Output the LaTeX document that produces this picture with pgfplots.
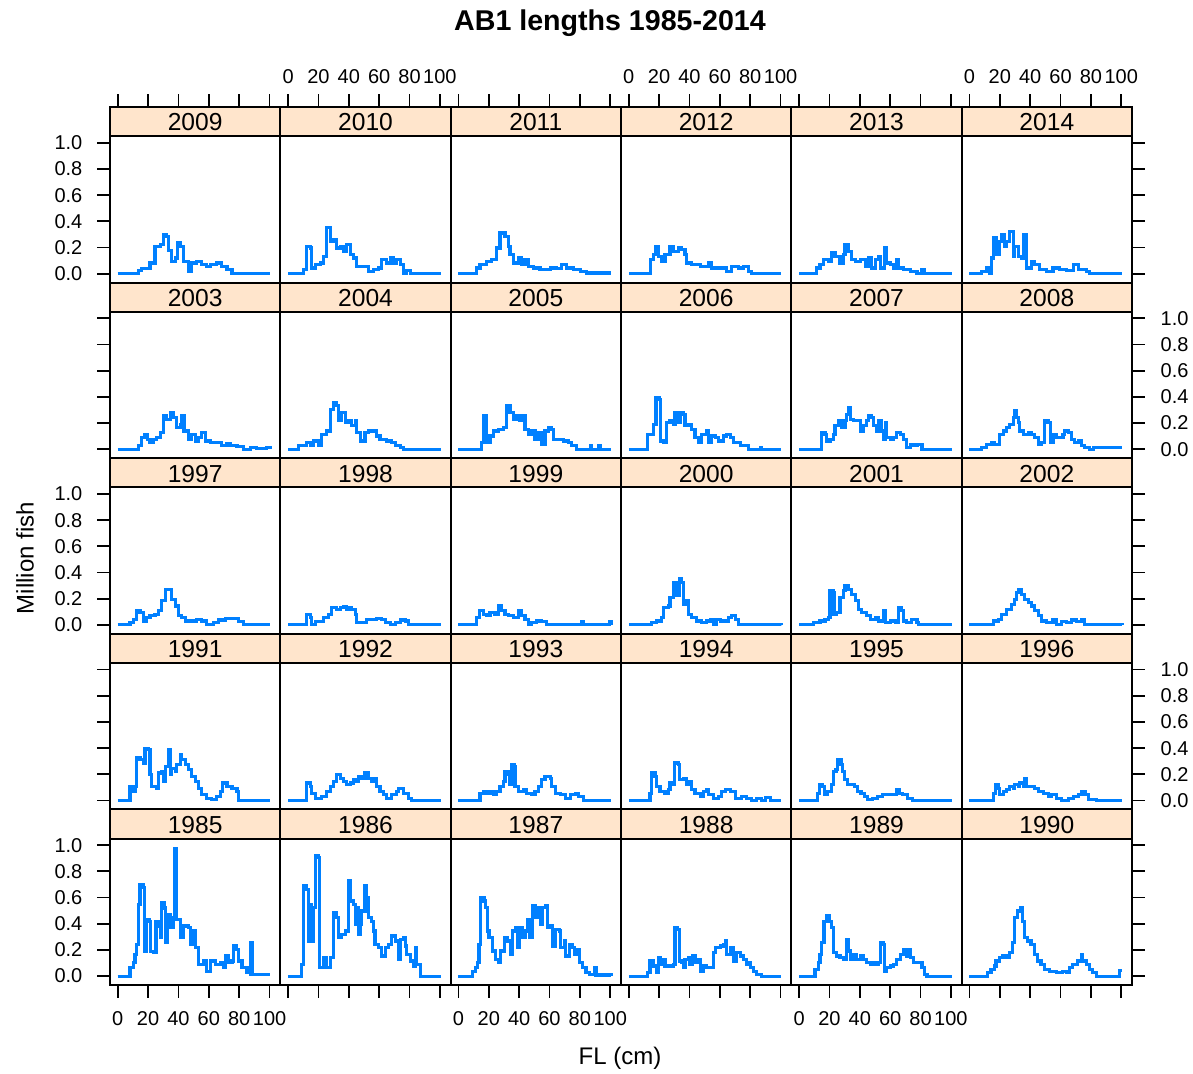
\documentclass[border=0pt]{standalone}
\usepackage{fontspec}
\setmainfont{Liberation Sans}
\usepackage{pgfplots}
\pgfplotsset{compat=1.18}

\definecolor{stripbg}{HTML}{FFE5CC}
\definecolor{fishblue}{HTML}{0080FF}

\newcommand\tickfont{\fontsize{10}{12}\selectfont}
\newcommand\stripfont{\fontsize{12.3}{14}\selectfont}

\pgfplotsset{
  panel/.style={
    scale only axis, width=85.17pt, height=87.8pt,
    anchor=north west,
    xmin=-5.1, xmax=107.1, ymin=-0.068, ymax=1.273,
    axis on top,
    axis line style={line width=1pt},
    every tick/.style={black, line width=0.9pt},
    tick align=outside, major tick length=6.3pt,
    xtick={0,20,40,60,80,100}, ytick={0,0.2,0.4,0.6,0.8,1.0},
    minor tick num=0, scaled y ticks=false,
    tick label style={font=\tickfont},
    /pgf/number format/assume math mode=true,
    yticklabel style={/pgf/number format/fixed,
      /pgf/number format/fixed zerofill, /pgf/number format/precision=1},
  },
  rtop/.style={xtick pos=right, xticklabel pos=right, xticklabel style={yshift=2pt}},
  rtopn/.style={xtick pos=right, xticklabels={}},
  rmid/.style={xtick=\empty},
  rbot/.style={xtick pos=left, xticklabel pos=left, xticklabel style={yshift=-3.5pt}},
  rbotn/.style={xtick pos=left, xticklabels={}},
  cl/.style={ytick pos=left, yticklabel pos=left, yticklabel style={xshift=-4pt}},
  cln/.style={ytick pos=left, yticklabels={}},
  cr/.style={ytick pos=right, yticklabel pos=right, yticklabel style={xshift=4.5pt}},
  crn/.style={ytick pos=right, yticklabels={}},
  cmid/.style={ytick=\empty},
}

% #1 position, #2 unused, #3 year, #4 tick options, #5 data
\newcommand\panel[5]{%
  \begin{axis}[panel, at={#1}, #4]
    \fill[stripbg] (axis cs:-5.1,1.05) rectangle (axis cs:107.1,1.273);
    \draw[line width=1pt] (axis cs:-5.1,1.05) -- (axis cs:107.1,1.05);
    \node[font=\stripfont, inner sep=0pt] at (axis cs:51,1.155) {#3};
    \addplot[const plot, fishblue, line width=1.6pt] coordinates {#5};
  \end{axis}}

\begin{document}
\begin{tikzpicture}
\useasboundingbox (0,0) rectangle (596.5pt,-537pt);

% ---- row 1 ----
\panel{(55pt,-53.5pt)}{}{2009}{rtopn, cl}{(0,0)(13.6,0.023)(15.8,0.038)(21.3,0.082)(24.6,0.21)(27.9,0.22)(30.1,0.30)(32.3,0.285)(33.4,0.18)(35.6,0.094)(37.8,0.12)(39.5,0.235)(41.5,0.21)(43.3,0.094)(46.6,0.018)(48.8,0.082)(52.1,0.094)(55.4,0.07)(58.7,0.056)(60.9,0.07)(65.3,0.082)(68.6,0.056)(71.9,0.03)(75.2,0)(100.5,0)}
\panel{(140.17pt,-53.5pt)}{}{2010}{rtop, cmid}{(0,0)(10.1,0.03)(12.3,0.21)(14.5,0.196)(15.6,0.043)(17.8,0.069)(21.1,0.082)(23.3,0.133)(25.5,0.35)(27.7,0.247)(29.9,0.26)(32.1,0.196)(34.3,0.21)(36.5,0.17)(38.7,0.222)(40.9,0.145)(43.1,0.12)(45.3,0.056)(48.5,0.056)(52.9,0.018)(56.2,0.03)(59.5,0.043)(61.7,0.107)(65.0,0.082)(67.2,0.12)(69.4,0.082)(71.6,0.107)(73.8,0.069)(76.0,0.005)(78.2,0.023)(80.4,0)(100.5,0)}
\panel{(225.33pt,-53.5pt)}{}{2011}{rtopn, cmid}{(0,0)(12.05,0.043)(14.25,0.069)(18.6,0.094)(21.9,0.107)(25.2,0.196)(27.4,0.31)(30.7,0.285)(32.9,0.21)(34.0,0.145)(36.2,0.082)(39.5,0.12)(41.7,0.069)(43.9,0.107)(46.1,0.056)(49.4,0.043)(53.8,0.03)(60.4,0.043)(64.8,0.038)(68.1,0.069)(71.4,0.043)(75.8,0.03)(80.2,0.018)(84.6,0.005)(100.5,0.005)}
\panel{(310.5pt,-53.5pt)}{}{2012}{rtop, cmid}{(0,0)(14.5,0.107)(16.2,0.145)(18.0,0.21)(19.5,0.133)(21.7,0.094)(23.9,0.145)(27.2,0.21)(29.4,0.17)(32.7,0.196)(34.9,0.184)(37.1,0.145)(38.2,0.082)(41.5,0.069)(47.0,0.056)(52.5,0.087)(54.7,0.043)(60.2,0.043)(64.6,0.018)(67.9,0.056)(72.3,0.043)(75.6,0.056)(78.9,0.018)(81.1,0)(100.5,0)}
\panel{(395.67pt,-53.5pt)}{}{2013}{rtopn, cmid}{(0,0)(11.6,0.043)(13.8,0.069)(16.0,0.107)(19.3,0.094)(21.5,0.158)(23.7,0.133)(27.0,0.082)(29.2,0.145)(30.3,0.222)(32.5,0.17)(34.7,0.107)(36.9,0.094)(40.2,0.107)(43.5,0.056)(45.7,0.12)(47.9,0.043)(50.1,0.107)(52.3,0.133)(53.4,0.043)(56.0,0.196)(57.8,0.082)(60.0,0.069)(62.2,0.043)(64.4,0.107)(65.5,0.043)(68.8,0.03)(73.2,0.018)(77.6,0)(80.9,0.03)(82.4,0)(100.5,0)}
\panel{(480.83pt,-53.5pt)}{}{2014}{rtop, crn}{(0,0)(7.9,0.018)(11.2,0.043)(13.4,0.005)(14.5,0.12)(15.6,0.273)(17.8,0.145)(20.0,0.247)(21.1,0.30)(23.3,0.21)(24.4,0.247)(26.6,0.324)(28.8,0.133)(29.9,0.21)(32.1,0.133)(34.3,0.12)(35.8,0.30)(37.6,0.043)(40.9,0.094)(43.1,0.069)(46.4,0.03)(50.8,0.018)(55.1,0.043)(59.5,0.03)(63.9,0.023)(68.3,0.069)(71.6,0.03)(77.1,0.018)(79.3,0)(100.5,0)}

% ---- row 2 ----
\panel{(55pt,-141.3pt)}{}{2003}{rmid, cln}{(0,0)(13.6,0.026)(15.8,0.089)(18.0,0.115)(19.5,0.077)(21.3,0.051)(23.5,0.077)(25.7,0.089)(27.9,0.128)(30.1,0.255)(32.3,0.23)(34.5,0.28)(36.7,0.242)(38.9,0.166)(41.1,0.191)(42.2,0.255)(43.7,0.14)(46.6,0.077)(48.8,0.115)(51.0,0.064)(53.2,0.089)(55.4,0.128)(57.6,0.064)(60.9,0.051)(68.6,0.026)(71.9,0.046)(74.1,0.026)(78.5,0.02)(82.9,0)(87.2,0.013)(91.6,0.005)(98.2,0.013)(100.5,0)}
\panel{(140.17pt,-141.3pt)}{}{2004}{rmid, cmid}{(0,0)(6.8,0.026)(12.3,0.051)(14.5,0.026)(16.7,0.064)(20.0,0.026)(22.2,0.115)(25.5,0.14)(27.7,0.306)(29.9,0.357)(32.1,0.332)(33.2,0.217)(35.4,0.28)(37.6,0.204)(39.8,0.217)(42.0,0.179)(44.2,0.217)(45.3,0.128)(47.5,0.064)(50.7,0.128)(52.9,0.14)(58.4,0.102)(60.6,0.077)(65.0,0.064)(68.3,0.051)(70.5,0.026)(73.8,0.013)(76.0,0)(100.5,0)}
\panel{(225.33pt,-141.3pt)}{}{2005}{rmid, cmid}{(0,0)(15.3,0.051)(16.9,0.255)(18.6,0.051)(20.8,0.102)(23.0,0.14)(26.3,0.153)(29.6,0.166)(31.8,0.33)(34.0,0.28)(36.2,0.23)(38.4,0.255)(40.6,0.217)(42.8,0.255)(43.9,0.153)(46.1,0.115)(48.3,0.14)(50.5,0.077)(52.7,0.128)(54.9,0.038)(57.1,0.14)(59.3,0.166)(61.5,0.153)(62.6,0.077)(69.2,0.064)(72.5,0.051)(74.7,0.026)(78.0,0)(86.8,0.026)(87.9,0)(92.3,0.026)(93.4,0)(100.5,0)}
\panel{(310.5pt,-141.3pt)}{}{2006}{rmid, cmid}{(0,0)(12.3,0.115)(15.1,0.115)(16.2,0.191)(18.0,0.395)(20.2,0.383)(21.1,0.064)(22.8,0.051)(24.6,0.204)(27.2,0.217)(29.4,0.191)(30.5,0.28)(32.7,0.204)(33.8,0.28)(36.0,0.268)(37.1,0.179)(39.3,0.191)(41.5,0.153)(43.7,0.089)(45.9,0.051)(48.1,0.115)(51.4,0.14)(52.5,0.051)(54.7,0.102)(56.9,0.089)(59.1,0.064)(62.4,0.102)(64.6,0.115)(66.8,0.089)(69.0,0.051)(73.4,0.026)(78.9,0)(86.6,0.013)(87.7,0)(100.5,0)}
\panel{(395.67pt,-141.3pt)}{}{2007}{rmid, cmid}{(0,0)(14.9,0.128)(17.1,0.115)(18.2,0.064)(20.4,0.077)(22.6,0.115)(23.7,0.179)(25.9,0.217)(28.1,0.166)(30.3,0.217)(31.4,0.268)(32.5,0.32)(33.6,0.230)(35.8,0.217)(39.1,0.217)(40.2,0.140)(42.4,0.179)(44.6,0.217)(45.7,0.255)(47.9,0.242)(49.0,0.179)(51.2,0.140)(52.3,0.217)(54.5,0.140)(55.6,0.077)(56.7,0.204)(57.8,0.089)(60.0,0.077)(62.2,0.089)(64.4,0.128)(66.6,0.115)(68.8,0.077)(71.0,0.013)(73.2,0.038)(75.4,0.026)(77.6,0.038)(80.9,0)(100.5,0)}
\panel{(480.83pt,-141.3pt)}{}{2008}{rmid, cr}{(0,0)(7.9,0.013)(11.2,0.038)(14.5,0.051)(16.7,0.038)(20.0,0.115)(22.2,0.14)(24.4,0.166)(26.6,0.191)(28.8,0.242)(29.9,0.293)(31.0,0.242)(32.1,0.204)(33.2,0.14)(35.4,0.115)(38.7,0.128)(40.9,0.115)(43.1,0.089)(45.3,0.038)(47.5,0.051)(49.7,0.217)(51.8,0.204)(53.4,0.051)(55.1,0.115)(57.3,0.089)(61.7,0.115)(62.8,0.14)(65.0,0.128)(67.2,0.077)(69.4,0.051)(71.6,0.064)(73.8,0.026)(76.0,0.013)(79.3,0)(81.5,0.013)(100.5,0.013)}

% ---- row 3 ----
\panel{(55pt,-229.1pt)}{}{1997}{rmid, cl}{(0,0)(8.1,0.018)(10.3,0.043)(12.5,0.107)(14.7,0.094)(16.9,0.03)(19.1,0.056)(21.3,0.069)(24.6,0.082)(26.8,0.107)(29.0,0.184)(31.2,0.273)(34.5,0.273)(35.6,0.196)(37.8,0.145)(40.0,0.069)(42.2,0.056)(44.4,0.03)(52.1,0.043)(55.4,0.03)(58.7,0.005)(63.1,0.018)(66.4,0.038)(70.8,0.048)(77.4,0.048)(79.6,0.023)(82.9,0)(100.5,0)}
\panel{(140.17pt,-229.1pt)}{}{1998}{rmid, cmid}{(0,0)(12.3,0.082)(14.5,0.056)(15.6,0.005)(17.8,0.023)(23.3,0.056)(26.6,0.082)(28.8,0.133)(32.1,0.12)(34.3,0.133)(36.5,0.14)(38.7,0.12)(39.8,0.133)(42.0,0.12)(44.2,0.082)(45.3,0.018)(51.8,0.043)(58.4,0.051)(61.7,0.043)(63.9,0.018)(67.2,0.005)(70.5,0.018)(73.8,0.038)(77.1,0.03)(79.3,0.005)(81.5,0)(100.5,0)}
\panel{(225.33pt,-229.1pt)}{}{1999}{rmid, cmid}{(0,0)(11.9,0.056)(14.1,0.107)(16.4,0.082)(18.6,0.069)(20.8,0.094)(24.1,0.082)(26.3,0.145)(28.5,0.107)(30.7,0.082)(32.9,0.069)(36.2,0.056)(39.5,0.107)(41.7,0.069)(43.9,0.043)(46.1,0.005)(48.3,0.018)(51.6,0.03)(54.9,0.023)(58.2,0.005)(81.3,0.023)(82.4,0)(99.6,0.023)(100.5,0)}
\panel{(310.5pt,-229.1pt)}{}{2000}{rmid, cmid}{(0,0)(15.1,0.018)(18.4,0.03)(21.7,0.056)(22.8,0.133)(26.1,0.145)(27.2,0.21)(29.4,0.324)(31.6,0.222)(33.4,0.35)(34.9,0.324)(36.0,0.158)(38.2,0.184)(39.3,0.082)(41.5,0.056)(44.8,0.03)(48.1,0.018)(51.4,0.03)(53.6,0.043)(55.8,0.005)(58.0,0.043)(60.2,0.023)(62.4,0.03)(65.7,0.056)(67.9,0.069)(70.1,0.043)(72.3,0.005)(100.5,0)}
\panel{(395.67pt,-229.1pt)}{}{2001}{rmid, cmid}{(0,0)(9.4,0.018)(13.8,0.03)(17.1,0.043)(19.3,0.056)(20.4,0.26)(22.6,0.247)(23.0,0.082)(24.8,0.094)(27.0,0.21)(29.2,0.26)(30.3,0.30)(32.5,0.273)(34.7,0.235)(36.9,0.184)(39.1,0.12)(41.3,0.094)(44.6,0.069)(46.8,0.043)(50.1,0.056)(52.3,0.03)(55.6,0.107)(56.7,0.018)(60.0,0.03)(63.3,0.018)(65.5,0.133)(67.7,0.107)(68.8,0.03)(71.0,0.018)(74.3,0.043)(77.6,0.018)(78.7,0)(100.5,0)}
\panel{(480.83pt,-229.1pt)}{}{2002}{rmid, crn}{(0,0)(15.6,0.03)(18.9,0.043)(21.1,0.082)(24.4,0.12)(27.7,0.158)(29.9,0.196)(31.0,0.247)(32.7,0.273)(34.3,0.235)(36.5,0.196)(38.7,0.17)(40.9,0.145)(43.1,0.107)(45.3,0.069)(47.5,0.03)(50.8,0.018)(55.1,0.038)(57.3,0.005)(60.6,0.023)(63.9,0.018)(67.2,0.038)(70.5,0.023)(73.8,0.038)(76.0,0.005)(100.5,0)}

% ---- row 4 ----
\panel{(55pt,-316.9pt)}{}{1991}{rmid, cln}{(0,0)(8.1,0.107)(10.3,0.069)(11.4,0.107)(12.5,0.324)(14.7,0.311)(16.9,0.286)(18.0,0.40)(20.2,0.388)(21.3,0.196)(22.4,0.107)(25.7,0.094)(26.8,0.21)(29.0,0.222)(30.1,0.145)(31.2,0.26)(33.4,0.388)(34.5,0.196)(35.6,0.247)(37.8,0.222)(38.9,0.273)(41.1,0.35)(42.2,0.311)(44.4,0.273)(46.6,0.235)(48.8,0.184)(51.0,0.145)(53.2,0.094)(55.4,0.043)(58.7,0.018)(62.0,0.005)(65.3,0.03)(67.5,0.069)(69.2,0.133)(71.9,0.107)(75.2,0.094)(78.5,0.069)(79.6,0)(100.5,0)}
\panel{(140.17pt,-316.9pt)}{}{1992}{rmid, cmid}{(0,0)(12.3,0.133)(14.5,0.107)(15.6,0.056)(17.8,0.018)(22.2,0.03)(25.5,0.069)(27.7,0.107)(29.9,0.145)(32.1,0.196)(34.3,0.17)(36.5,0.145)(38.7,0.12)(40.9,0.133)(43.1,0.158)(45.3,0.145)(46.4,0.184)(48.5,0.17)(50.7,0.21)(52.9,0.17)(55.1,0.145)(57.3,0.17)(58.4,0.107)(60.6,0.069)(62.8,0.043)(65.0,0.018)(68.3,0.043)(71.6,0.069)(72.7,0.094)(76.0,0.056)(79.3,0.018)(81.5,0)(100.5,0)}
\panel{(225.33pt,-316.9pt)}{}{1993}{rmid, cmid}{(0,0)(14.25,0.056)(16.4,0.069)(18.6,0.056)(20.8,0.069)(23.0,0.043)(25.2,0.069)(27.4,0.107)(29.6,0.145)(30.7,0.222)(32.9,0.196)(34.0,0.12)(35.1,0.273)(36.7,0.26)(37.3,0.107)(39.5,0.069)(42.8,0.082)(45.0,0.056)(48.3,0.043)(50.5,0.069)(52.7,0.107)(54.9,0.158)(57.1,0.184)(60.4,0.17)(61.5,0.107)(63.7,0.056)(67.0,0.043)(70.3,0.018)(73.6,0.043)(76.9,0.056)(79.1,0.03)(82.4,0)(100.5,0)}
\panel{(310.5pt,-316.9pt)}{}{1994}{rmid, cmid}{(0,0)(14.0,0.056)(15.1,0.21)(17.3,0.184)(18.4,0.107)(20.6,0.069)(23.9,0.056)(26.1,0.082)(27.2,0.133)(29.0,0.12)(29.9,0.286)(32.7,0.273)(33.4,0.158)(36.0,0.17)(38.2,0.12)(40.4,0.145)(41.5,0.082)(43.7,0.056)(47.0,0.03)(49.2,0.069)(51.4,0.082)(52.5,0.043)(55.8,0.018)(59.1,0.03)(61.3,0.069)(63.5,0.082)(66.8,0.069)(70.1,0.018)(74.5,0.03)(77.8,0.018)(81.1,0)(84.4,0.018)(87.7,0)(89.9,0.023)(93.2,0)(100.5,0)}
\panel{(395.67pt,-316.9pt)}{}{1995}{rmid, cmid}{(0,0)(12.2,0.056)(13.4,0.12)(15.6,0.107)(16.7,0.043)(18.9,0.069)(21.1,0.12)(22.8,0.222)(24.3,0.235)(25.4,0.311)(27.6,0.273)(28.7,0.222)(29.8,0.158)(32.0,0.12)(34.2,0.12)(36.4,0.107)(38.6,0.069)(40.8,0.056)(43.0,0.03)(45.2,0.005)(48.5,0.018)(51.8,0.03)(55.1,0.043)(58.4,0.048)(61.7,0.043)(63.9,0.082)(66.1,0.056)(68.3,0.043)(71.6,0.018)(74.9,0)(100.5,0)}
\panel{(480.83pt,-316.9pt)}{}{1996}{rmid, cr}{(0,0)(15.6,0.056)(17.3,0.12)(18.9,0.094)(20.0,0.043)(22.2,0.069)(24.4,0.082)(26.6,0.107)(28.8,0.094)(29.9,0.12)(32.1,0.107)(33.2,0.133)(35.4,0.107)(36.5,0.17)(37.6,0.107)(39.8,0.107)(43.1,0.094)(45.3,0.069)(48.6,0.056)(51.9,0.03)(54.1,0.043)(57.4,0.018)(60.7,0)(65.1,0.018)(68.4,0.03)(71.7,0.043)(73.9,0.069)(76.1,0.043)(78.3,0.005)(83.8,0)(100.5,0)}

% ---- row 5 ----
\panel{(55pt,-404.7pt)}{}{1985}{rbot, cl}{(0,0)(8.1,0.064)(10.3,0.102)(11.4,0.166)(12.5,0.242)(13.6,0.548)(14.7,0.70)(16.9,0.676)(17.5,0.191)(19.1,0.434)(20.8,0.42)(21.7,0.19)(23.5,0.178)(25.2,0.42)(26.8,0.383)(27.9,0.293)(29.0,0.56)(30.5,0.52)(31.2,0.255)(32.7,0.47)(34.5,0.37)(36.7,0.446)(37.6,0.97)(38.4,0.97)(38.9,0.434)(41.1,0.293)(43.3,0.383)(46.6,0.37)(47.7,0.242)(49.4,0.344)(51.0,0.217)(53.2,0.089)(56.5,0.115)(58.7,0.038)(60.9,0.115)(64.2,0.089)(67.5,0.102)(69.7,0.064)(70.8,0.153)(73.0,0.102)(75.2,0.115)(76.3,0.23)(78.0,0.204)(79.6,0.115)(81.8,0.064)(85.1,0.026)(87.2,0.013)(87.7,0.255)(89.0,0.013)(100.5,0.013)}
\panel{(140.17pt,-404.7pt)}{}{1986}{rbotn, cmid}{(0,0)(9.0,0.089)(10.1,0.69)(12.3,0.663)(13.4,0.268)(14.5,0.548)(15.6,0.268)(16.7,0.523)(17.8,0.918)(20.0,0.906)(20.6,0.064)(23.3,0.14)(25.5,0.064)(27.7,0.14)(29.9,0.485)(32.1,0.446)(33.2,0.293)(35.4,0.319)(37.6,0.344)(39.8,0.727)(40.9,0.574)(43.1,0.548)(44.2,0.395)(45.3,0.523)(46.4,0.319)(47.5,0.395)(48.5,0.497)(50.7,0.69)(51.8,0.6)(52.9,0.446)(55.1,0.42)(56.2,0.344)(57.3,0.242)(59.5,0.217)(61.7,0.153)(63.9,0.217)(66.1,0.242)(68.3,0.306)(70.5,0.268)(72.7,0.128)(73.8,0.28)(76.0,0.293)(77.1,0.23)(78.2,0.166)(80.4,0.115)(82.6,0.077)(83.7,0.217)(84.8,0.089)(87.0,0)(100.5,0)}
\panel{(225.33pt,-404.7pt)}{}{1987}{rbot, cmid}{(0,0)(9.2,0.038)(11.4,0.064)(12.5,0.102)(13.6,0.242)(14.7,0.60)(16.9,0.574)(18.0,0.523)(19.1,0.344)(20.2,0.293)(22.4,0.191)(24.6,0.128)(26.8,0.102)(27.9,0.191)(30.1,0.293)(32.3,0.268)(34.5,0.166)(35.6,0.344)(37.8,0.37)(38.9,0.217)(40.0,0.37)(42.2,0.293)(44.4,0.344)(45.5,0.434)(46.6,0.293)(48.8,0.536)(51.0,0.446)(52.1,0.523)(54.3,0.395)(55.4,0.523)(57.6,0.536)(58.7,0.37)(60.9,0.383)(62.0,0.23)(64.2,0.357)(66.4,0.344)(67.5,0.217)(69.7,0.268)(70.8,0.153)(73.0,0.242)(75.2,0.217)(76.3,0.166)(78.5,0.204)(79.6,0.102)(81.8,0.064)(84.0,0.026)(86.2,0.013)(89.5,0.064)(90.6,0.008)(100.5,0)}
\panel{(310.5pt,-404.7pt)}{}{1988}{rbotn, cmid}{(0,0)(12.2,0.026)(14.0,0.115)(16.2,0.077)(18.4,0.026)(19.5,0.14)(20.6,0.089)(21.7,0.128)(23.9,0.077)(29.4,0.089)(30.5,0.37)(32.1,0.357)(33.4,0.115)(34.9,0.102)(36.0,0.064)(37.1,0.128)(39.3,0.14)(40.4,0.089)(42.2,0.153)(43.7,0.102)(45.9,0.128)(47.0,0.038)(49.2,0.077)(51.4,0.064)(55.8,0.179)(56.9,0.217)(60.2,0.23)(62.4,0.242)(63.5,0.268)(64.6,0.166)(66.8,0.217)(69.0,0.115)(70.8,0.179)(73.4,0.153)(75.6,0.128)(77.4,0.089)(78.9,0.102)(80.0,0.064)(82.2,0.038)(84.4,0.013)(87.7,0)(100.5,0)}
\panel{(395.67pt,-404.7pt)}{}{1989}{rbot, cmid}{(0,0)(10.5,0.051)(12.7,0.102)(13.8,0.166)(14.9,0.255)(16.4,0.42)(18.2,0.46)(20.0,0.42)(21.5,0.37)(22.6,0.179)(24.8,0.153)(27.0,0.14)(29.2,0.128)(31.0,0.28)(32.5,0.191)(33.6,0.128)(35.8,0.166)(38.0,0.128)(40.2,0.153)(42.4,0.128)(44.6,0.102)(46.8,0.089)(49.0,0.102)(51.2,0.089)(52.3,0.102)(53.8,0.255)(55.2,0.242)(56.0,0.038)(57.8,0.064)(60.0,0.077)(62.2,0.089)(64.4,0.128)(66.6,0.166)(68.8,0.204)(71.0,0.153)(72.1,0.204)(73.6,0.14)(75.4,0.102)(78.7,0.102)(80.9,0.064)(82.4,0.013)(84.2,0)(100.5,0)}
\panel{(480.83pt,-404.7pt)}{}{1990}{rbotn, crn}{(0,0)(12.0,0.026)(14.2,0.051)(16.4,0.077)(17.5,0.115)(19.7,0.14)(21.9,0.153)(24.1,0.14)(26.3,0.179)(28.5,0.255)(29.6,0.446)(31.8,0.497)(34.0,0.523)(35.1,0.42)(36.2,0.293)(38.4,0.268)(40.6,0.242)(42.8,0.166)(45.0,0.115)(47.2,0.089)(49.4,0.051)(52.7,0.038)(57.1,0.026)(61.5,0.038)(63.7,0.026)(65.9,0.064)(68.1,0.089)(71.4,0.115)(73.6,0.166)(74.7,0.115)(76.9,0.089)(79.1,0.051)(81.3,0.026)(83.5,0)(98.9,0.04)(100.5,0.04)}

% ---- titles ----
\node[font=\fontsize{14.3}{16}\selectfont\bfseries] at (305pt,-11.5pt) {AB1 lengths 1985-2014};
\node[font=\fontsize{12}{14}\selectfont, rotate=90] at (12.5pt,-279pt) {Million fish};
\node[font=\fontsize{12}{14}\selectfont] at (310pt,-529pt) {FL (cm)};
\end{tikzpicture}
\end{document}
